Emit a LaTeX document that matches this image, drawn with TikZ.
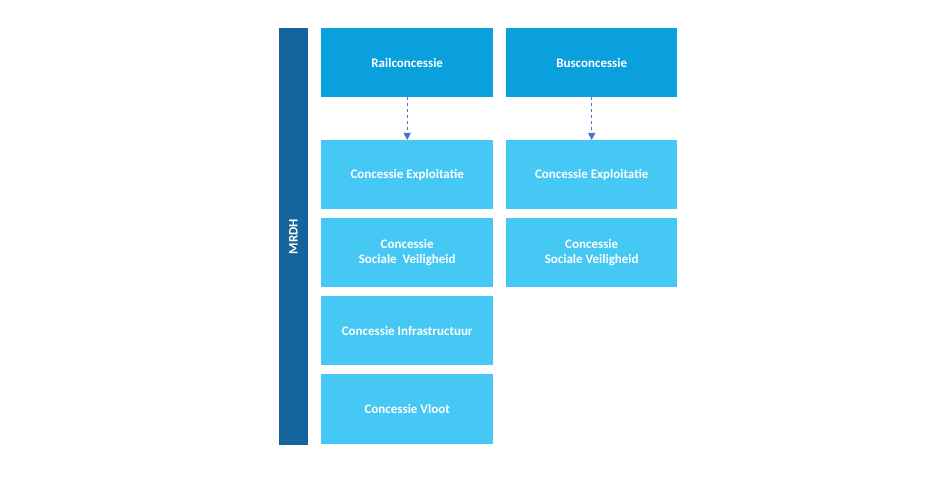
\documentclass[tikz,border=0pt]{standalone}
\usepackage{fontspec}
\setmainfont{Carlito}
\usetikzlibrary{arrows.meta}
\definecolor{dark}{HTML}{15649C}
\definecolor{mid}{HTML}{0A9FDD}
\definecolor{light}{HTML}{45C8F4}
\definecolor{arr}{HTML}{4472C4}
\begin{document}
\begin{tikzpicture}[x=1pt,y=-1pt,
  box/.style={draw=none,fill=#1,text=white,font=\bfseries\fontsize{13}{15}\selectfont,align=center,minimum width=172pt,minimum height=69pt,inner sep=0pt,anchor=north west},
  con/.style={draw=arr,dashed,line width=1.2pt,-{Triangle[length=7pt,width=7pt]}}]
\useasboundingbox (0,0) rectangle (950,489);
\node[fill=dark,minimum width=29pt,minimum height=417pt,inner sep=0pt,anchor=north west] (m) at (279,28) {};
\node[rotate=90,text=white,font=\bfseries\fontsize{13}{15}\selectfont] (ml) at (293.5,236.5) {MRDH};
\node[box=mid] (rail) at (321,28) {Railconcessie};
\node[box=mid,minimum width=171pt] (bus) at (506,28) {Busconcessie};
\node[box=light] (r1) at (321,140) {Concessie Exploitatie};
\node[box=light] (r2) at (321,218) {Concessie\\Sociale\ \ Veiligheid};
\node[box=light] (r3) at (321,296) {Concessie Infrastructuur};
\node[box=light,minimum height=70pt] (r4) at (321,374) {Concessie Vloot};
\node[box=light,minimum width=171pt] (b1) at (506,140) {Concessie Exploitatie};
\node[box=light,minimum width=171pt] (b2) at (506,218) {Concessie\\Sociale Veiligheid};
\draw[con] (rail.south) -- (r1.north);
\draw[con] (bus.south) -- (b1.north);
\end{tikzpicture}
\end{document}
